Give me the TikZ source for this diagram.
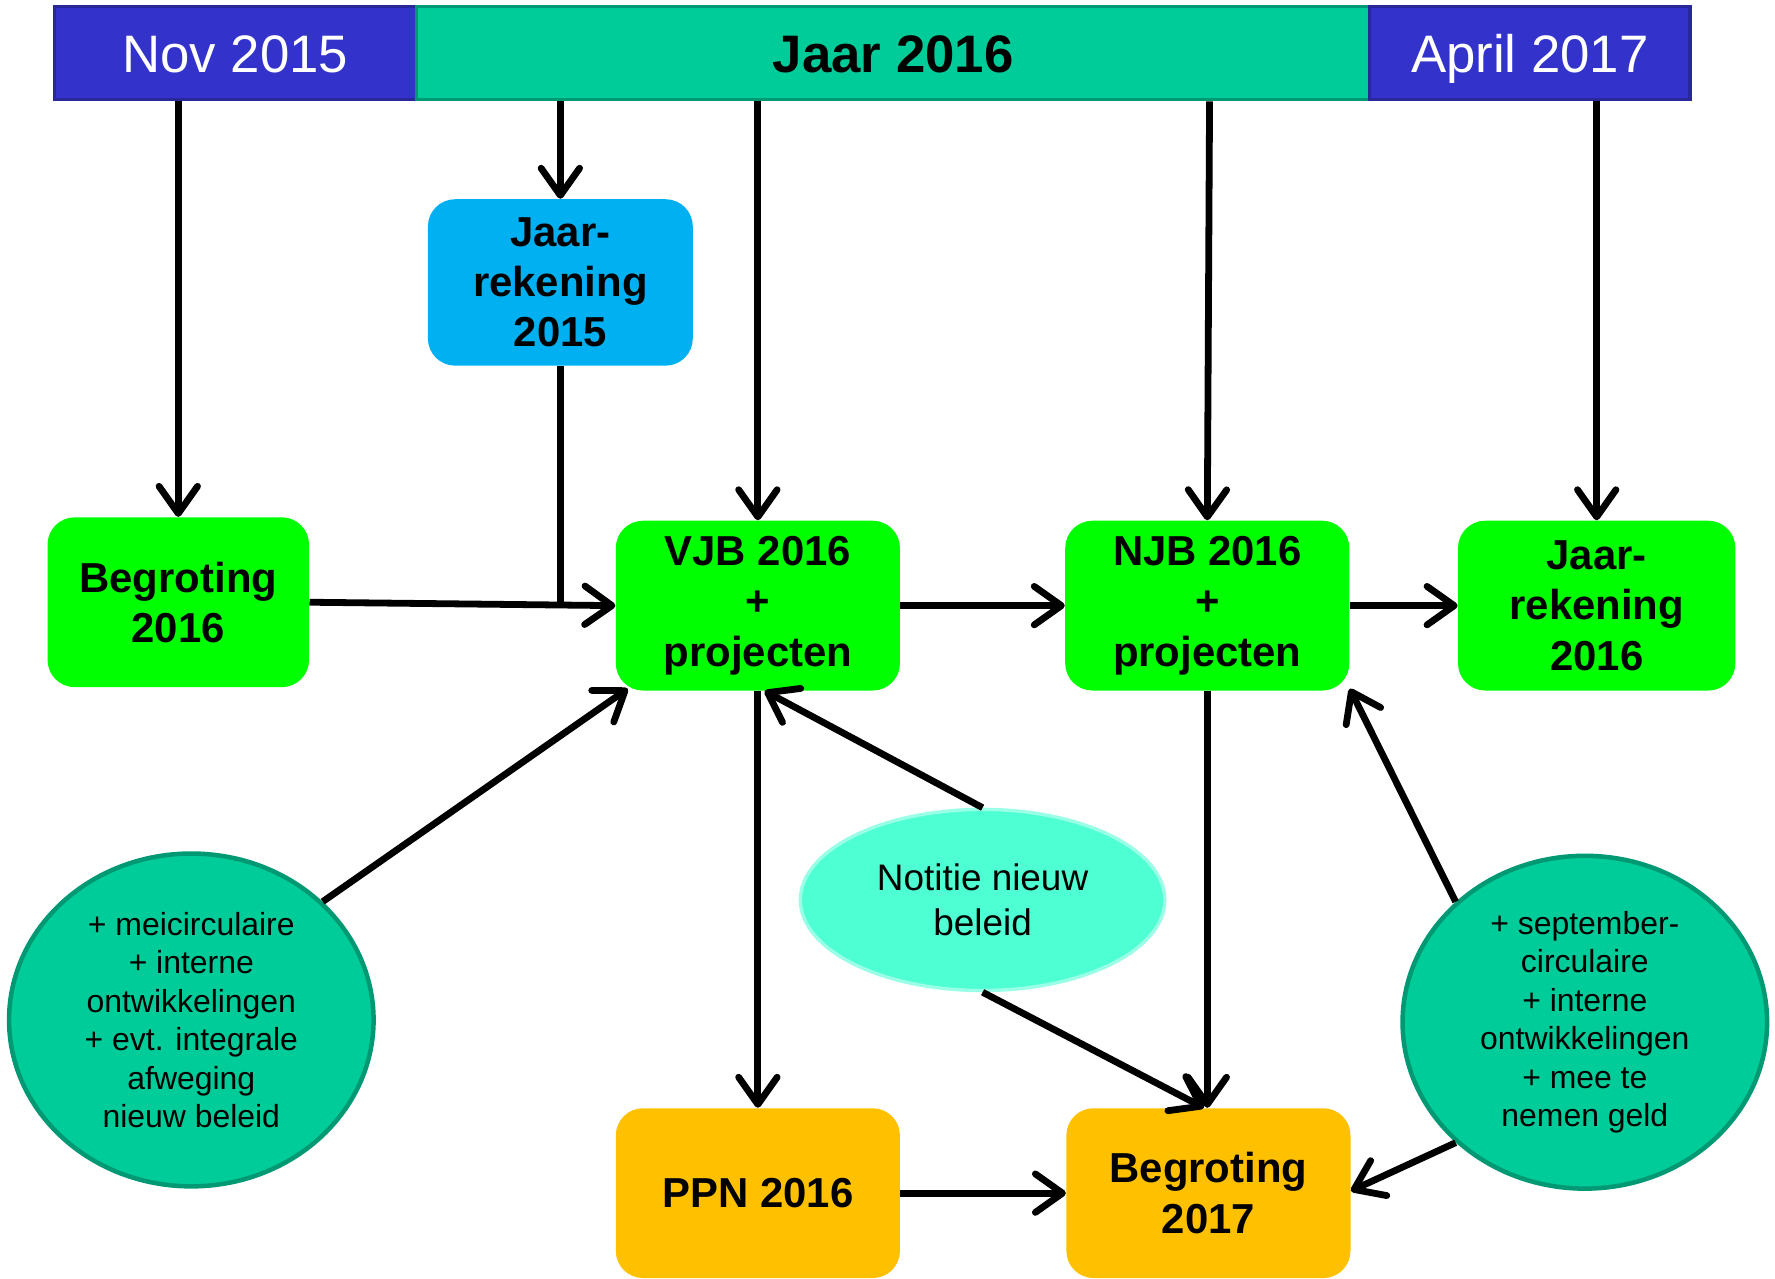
\documentclass[tikz,border=0pt]{standalone}
\usepackage{fontspec}
\setmainfont{Liberation Sans}
\usetikzlibrary{arrows.meta,shapes.geometric}
\definecolor{navy}{HTML}{3333CC}
\definecolor{navyb}{HTML}{28289A}
\definecolor{teal}{HTML}{00CC99}
\definecolor{tealb}{HTML}{009973}
\definecolor{lgreen}{HTML}{00FF00}
\definecolor{sky}{HTML}{00B0F0}
\definecolor{amber}{HTML}{FFC000}
\definecolor{aqua}{HTML}{4DFFD2}
\definecolor{aquab}{HTML}{99FFE6}
\tikzset{
  barbox/.style={draw, line width=1.5pt, inner sep=0pt, minimum height=41pt,
     text height=16.7pt, text depth=0pt},
  rbox/.style={rounded corners=12pt, inner sep=0pt, minimum height=75pt, minimum width=125.5pt,
     align=center, font=\bfseries\fontsize{18.5pt}{22.2pt}\selectfont},
  circ/.style={ellipse, draw=tealb, line width=2pt, fill=teal, inner sep=0pt,
     minimum width=161pt, minimum height=147pt, align=center,
     font=\fontsize{14.1pt}{17pt}\selectfont},
  conn/.style={line width=3pt, -{Straight Barb[length=12pt,width=17pt,line cap=round,line join=round]}},
  plain/.style={line width=3pt}
}
\begin{document}
\begin{tikzpicture}[x=0.5pt,y=-0.5pt]
\useasboundingbox (0,0) rectangle (1568,1129);
% top bar
\node[barbox, fill=navy, draw=navyb, minimum width=160pt, text=white,
  font=\fontsize{23.3pt}{28pt}\selectfont] (nov) at (208,47) {Nov 2015};
\node[barbox, fill=teal, draw=tealb, minimum width=421pt,
  font=\bfseries\fontsize{23.3pt}{28pt}\selectfont] (jaar) at (789,47) {Jaar 2016};
\node[barbox, fill=navy, draw=navyb, minimum width=141.5pt, text=white,
  font=\fontsize{23.3pt}{28pt}\selectfont] (apr) at (1351.5,47) {April 2017};
% boxes
\node[rbox, fill=sky, minimum width=117pt, minimum height=73.5pt] (jr15) at (495,249.5) {Jaar-\\rekening\\2015};
\node[rbox, fill=lgreen, minimum width=115.5pt] (beg16) at (157.5,532) {Begroting\\2016};
\node[rbox, fill=lgreen] (vjb) at (669.5,535) {VJB 2016\\+\\projecten};
\node[rbox, fill=lgreen] (njb) at (1066.5,535) {NJB 2016\\+\\projecten};
\node[rbox, fill=lgreen, minimum width=122.5pt] (jr16) at (1410.5,535) {Jaar-\\rekening\\2016};
\node[rbox, fill=amber] (ppn) at (669.5,1054) {PPN 2016};
\node[rbox, fill=amber] (b17) at (1067.5,1054) {Begroting\\2017};
% ellipses
\node[circ] (lc) at (169,901) {+ meicirculaire\\+ interne\\ontwikkelingen\\+ evt. integrale\\afweging\\nieuw beleid};
\node[circ] (rc) at (1400,903) {+ september-\\circulaire\\+ interne\\ontwikkelingen\\+ mee te\\nemen geld};
\node[ellipse, draw=aquab, line width=1.5pt, fill=aqua, inner sep=0pt,
  minimum width=161pt, minimum height=80pt, align=center,
  font=\fontsize{16.3pt}{20pt}\selectfont] (not) at (868,795) {Notitie nieuw\\beleid};
% connectors
\draw[conn] (beg16.north |- nov.south) -- (beg16.north);
\draw[conn] (jr15.north |- jaar.south) -- (jr15.north);
\draw[conn] (vjb.north |- jaar.south) -- (vjb.north);
\draw[conn] ([xshift=1pt]njb.north |- jaar.south) -- (njb.north);
\draw[conn] (jr16.north |- apr.south) -- (jr16.north);
\draw[conn] (beg16.east) -- (vjb.west);
\draw[plain] (jr15.south) -- (jr15.south |- vjb.west);
\draw[conn] (vjb.east) -- (njb.east -| njb.west);
\draw[conn] (njb.east) -- (jr16.west);
\draw[conn] (vjb.south) -- (ppn.north);
\draw[conn] (not.north) -- ([xshift=3pt]vjb.south);
\draw[conn] (lc.42) -- ([xshift=5.5pt,yshift=1pt]vjb.south west);
\draw[conn] (njb.south) -- (njb.south |- b17.north);
\draw[conn] (not.south) -- ([xshift=-2pt]b17.north);
\draw[conn] (ppn.east) -- (b17.west);
\draw[conn] (rc.137) -- ([yshift=1pt]njb.south east);
\draw[conn] (rc.223) -- ([yshift=1pt]b17.east);
\end{tikzpicture}
\end{document}
